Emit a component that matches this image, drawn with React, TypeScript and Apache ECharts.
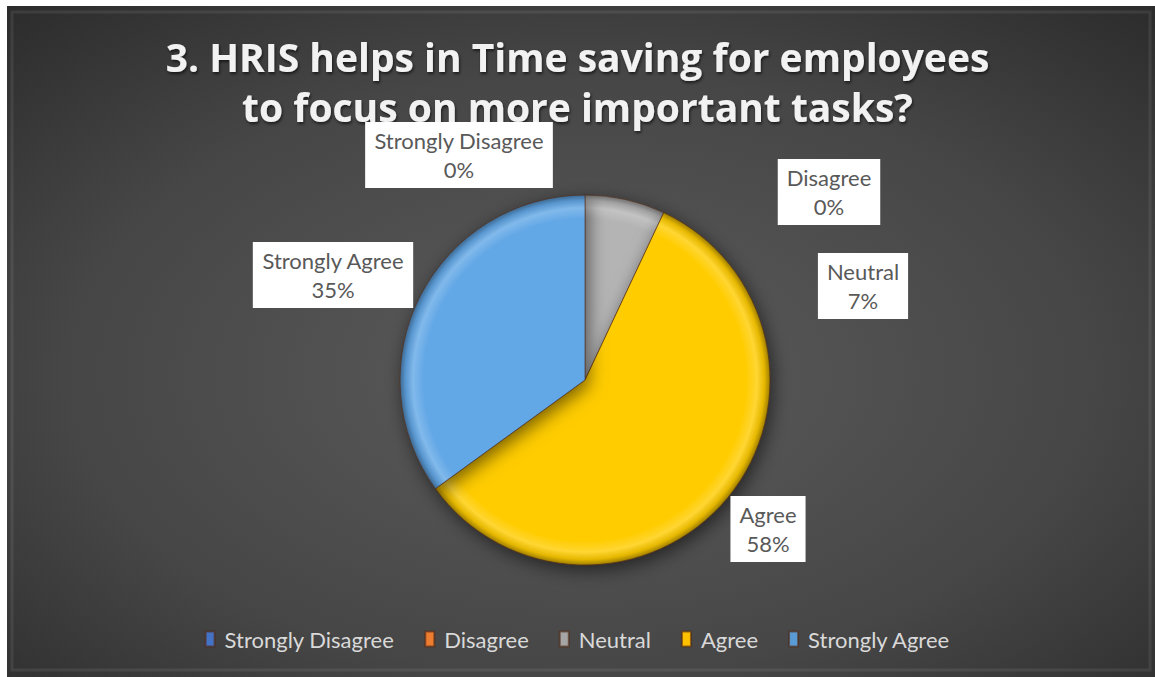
import React, { useEffect, useRef } from "react";
import * as echarts from "echarts";

const categories = ["Strongly Disagree", "Disagree", "Neutral", "Agree", "Strongly Agree"];
const values = [0, 0, 7, 58, 35];
const legendColors = ["#4472c4", "#ed7d31", "#a5a5a5", "#ffc000", "#5b9bd5"];
const sliceColors = ["#4472c4", "#ed7d31", "#b4b4b4", "#ffcc00", "#62a7e6"];
const titleText = "3. HRIS helps in Time saving for employees\nto focus on more important tasks?";

// label box centres (layout only)
const labelCenters: [number, number][] = [
  [459, 155],
  [829, 192],
  [863, 286],
  [768, 529],
  [333, 275],
];

const CX = 585;
const CY = 380;
const R = 185;

function shade(hex: string, f: number) {
  const n = parseInt(hex.slice(1), 16);
  const ch = [(n >> 16) & 255, (n >> 8) & 255, n & 255].map((c) =>
    f <= 1 ? Math.round(c * f) : Math.round(c + (255 - c) * (f - 1))
  );
  return `rgb(${ch[0]},${ch[1]},${ch[2]})`;
}

export default function App() {
  const ref = useRef<HTMLDivElement>(null);
  useEffect(() => {
    if (!ref.current) return;
    const chart = echarts.init(ref.current, null, { renderer: "svg" });
    const data = categories.map((name, i) => ({
      name,
      value: values[i],
      itemStyle: {
        color: {
          type: "radial",
          x: CX,
          y: CY,
          r: R,
          global: true,
          colorStops: [
            { offset: 0, color: sliceColors[i] },
            { offset: 0.87, color: sliceColors[i] },
            { offset: 0.93, color: shade(sliceColors[i], 1.2) },
            { offset: 0.97, color: shade(sliceColors[i], 0.9) },
            { offset: 1, color: shade(sliceColors[i], 0.62) },
          ],
        },
      },
    }));
    chart.setOption({
      animation: false,
      backgroundColor: "#ffffff",
      color: legendColors,
      graphic: [
        {
          type: "rect",
          z: -10,
          shape: { x: 7, y: 6, width: 1148, height: 671 },
          style: {
            fill: {
              type: "radial",
              x: 0.5,
              y: 0.55,
              r: 0.75,
              colorStops: [
                { offset: 0, color: "#5c5c5c" },
                { offset: 0.6, color: "#464646" },
                { offset: 1, color: "#2b2b2b" },
              ],
            },
          },
        },
        {
          type: "rect",
          z: -9,
          shape: { x: 12, y: 12, width: 1138, height: 658 },
          style: { fill: "transparent", stroke: "rgba(255,255,255,0.08)", lineWidth: 3 },
        },
      ],
      title: {
        text: titleText,
        left: "center",
        top: 26,
        z: 1,
        textStyle: {
          fontFamily: "Open Sans",
          fontWeight: "bold",
          fontSize: 39,
          lineHeight: 50,
          color: "#f2f2f2",
          textShadowColor: "rgba(0,0,0,0.6)",
          textShadowBlur: 3,
          textShadowOffsetX: 1,
          textShadowOffsetY: 2,
        },
      },
      legend: {
        bottom: 22,
        left: "center",
        itemWidth: 9,
        itemHeight: 15,
        itemGap: 30,
        icon: "rect",
        data: categories.map((name, i) => ({ name, itemStyle: { color: legendColors[i] } })),
        textStyle: { color: "#d9d9d9", fontFamily: "Lato", fontSize: 22, padding: [0, 0, 0, 5] },
      },
      series: [
        {
          type: "pie",
          z: 10,
          center: [CX, CY],
          radius: R,
          startAngle: 90,
          clockwise: true,
          avoidLabelOverlap: false,
          minShowLabelAngle: 0,
          stillShowZeroSum: true,
          data,
          itemStyle: {
            borderColor: "rgba(80,40,20,0.6)",
            borderWidth: 1,
            shadowBlur: 18,
            shadowColor: "rgba(0,0,0,0.55)",
            shadowOffsetX: 3,
            shadowOffsetY: 5,
          },
          label: {
            show: true,
            formatter: (p: any) => `${p.name}\n${Math.round(p.percent)}%`,
            backgroundColor: "#ffffff",
            color: "#595959",
            fontFamily: "Lato",
            fontSize: 22,
            lineHeight: 29,
            padding: [4, 9, 4, 9],
            align: "center",
            verticalAlign: "middle",
          },
          labelLine: { show: false },
          labelLayout: (p: any) => {
            const c = labelCenters[p.dataIndex];
            return { x: c[0], y: c[1], align: "center", verticalAlign: "middle" };
          },
          emphasis: { disabled: true },
        },
      ],
    });
    return () => chart.dispose();
  }, []);
  return (
    <div
      ref={ref}
      style={{ position: "absolute", left: 0, top: 0, width: 1155, height: 677 }}
    />
  );
}
